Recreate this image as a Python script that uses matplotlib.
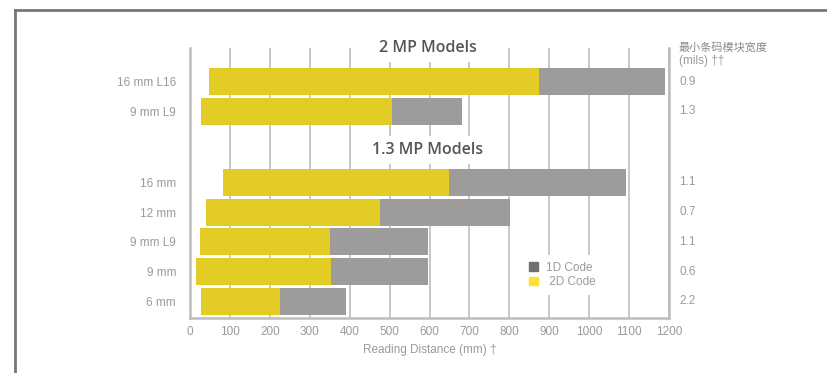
import numpy as np
import matplotlib.pyplot as plt
from matplotlib.patches import Patch
from matplotlib.transforms import blended_transform_factory

plt.rcParams['font.family'] = ['Liberation Sans', 'Noto Sans CJK SC', 'DejaVu Sans']

# data (reading distance, mm)
labels_2mp = ['16 mm L16', '9 mm L9']
start_2mp = [48, 28]
end2d_2mp = [875, 506]
end1d_2mp = [1190, 682]
mils_2mp = ['0.9', '1.3']

labels_13mp = ['16 mm', '12 mm', '9 mm L9', '9 mm', '6 mm']
start_13mp = [83, 40, 25, 15, 28]
end2d_13mp = [649, 476, 351, 353, 226]
end1d_13mp = [1092, 802, 597, 597, 391]
mils_13mp = ['1.1', '0.7', '1.1', '0.6', '2.2']

xticks = np.arange(0, 1201, 100)

c2d = '#E3CC26'
c1d = '#9D9C9A'
grid_c = '#C4C4C4'
txt_c = '#9A9A9A'

labels = labels_2mp + labels_13mp
start = np.array(start_2mp + start_13mp)
end2d = np.array(end2d_2mp + end2d_13mp)
end1d = np.array(end1d_2mp + end1d_13mp)
mils = mils_2mp + mils_13mp

# row positions: 1.3 MP group from the bottom, 2 MP group above with a gap
n13 = len(labels_13mp)
y13 = np.arange(n13)[::-1].astype(float)
y2 = np.arange(len(labels_2mp))[::-1] + n13 + 1.39
ypos = np.concatenate([y2, y13])

fig = plt.figure(figsize=(8.27, 3.73), dpi=100)
ax = fig.add_axes([190 / 827, 1 - 318 / 373, 479 / 827, 270 / 373])

ax.barh(ypos, end1d - end2d, left=end2d, height=0.9, color=c1d, zorder=2)
ax.barh(ypos, end2d - start, left=start, height=0.9, color=c2d, zorder=2)

ax.set_xlim(0, 1200)
ax.set_ylim(-0.56, 8.52)
ax.set_xticks(xticks)
ax.set_yticks(ypos)
ax.set_yticklabels(labels)
ax.tick_params(axis='both', length=0, labelsize=8.5, colors=txt_c)
ax.tick_params(axis='y', pad=10)
ax.tick_params(axis='x', pad=6)
ax.grid(axis='x', color=grid_c, linewidth=1.3)
ax.set_axisbelow(True)
for s in ['left', 'bottom', 'right']:
    ax.spines[s].set_color('#BDBDBD')
    ax.spines[s].set_linewidth(1.8)
ax.spines['top'].set_visible(False)
ax.set_xlabel('Reading Distance (mm) †', fontsize=8.5, color=txt_c, labelpad=4)

# group titles
for t, yy in [('2 MP Models', 8.51), ('1.3 MP Models', 5.09)]:
    ax.text(595, yy, t, ha='center', va='center', fontsize=11.5, color='#555555',
            family=['Open Sans', 'DejaVu Sans'], fontweight='semibold', zorder=1.5,
            bbox=dict(facecolor='white', edgecolor='none', pad=4))

# right column: minimum bar code module width
tr = blended_transform_factory(ax.transAxes, ax.transData)
for v, yy in zip(mils, ypos):
    ax.text(1.021, yy, v, transform=tr, ha='left', va='center', fontsize=8.5, color=txt_c)
fig.text(679 / 827, 1 - 47 / 373, '最小条码模块宽度', ha='left', va='center', fontsize=8,
         color='#8A8A8A', family=['Noto Sans CJK SC', 'DejaVu Sans'])
fig.text(679 / 827, 1 - 61 / 373, '(mils) ††', ha='left', va='center', fontsize=8.5, color=txt_c)

# legend
handles = [Patch(color='#707070', label='1D Code'), Patch(color='#FFE033', label=' 2D Code')]
leg = ax.legend(handles=handles, loc='center', bbox_to_anchor=(0.778, 0.16), fontsize=8.5,
                frameon=True, facecolor='white', edgecolor='none', framealpha=1,
                handlelength=0.75, handleheight=0.75, handletextpad=0.7,
                labelspacing=0.2, borderpad=0.6, fancybox=False)
for t in leg.get_texts():
    t.set_color(txt_c)

# frame lines around the figure
fig.add_artist(plt.Line2D([15 / 827, 15 / 827], [0, 1 - 10 / 373], color='#777777', linewidth=2))
fig.add_artist(plt.Line2D([15 / 827, 1], [1 - 10 / 373, 1 - 10 / 373], color='#777777', linewidth=2))

fig.savefig('out.png', dpi=100)
